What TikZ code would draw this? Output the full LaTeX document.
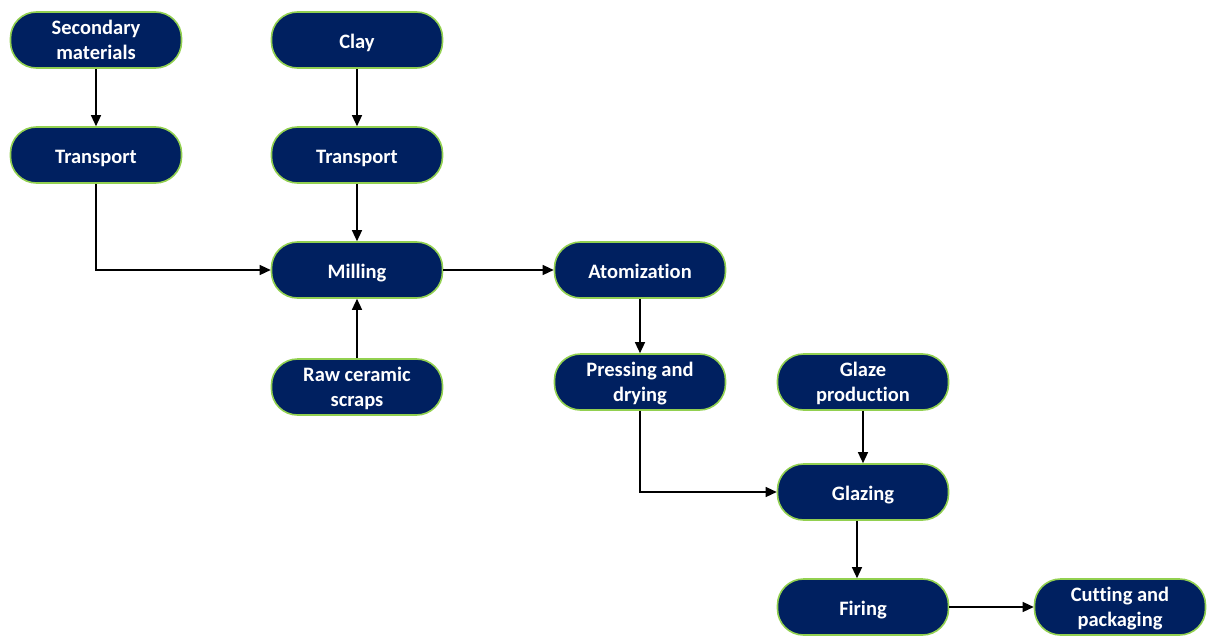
\documentclass[tikz,border=0pt]{standalone}
\usepackage{fontspec}
\setmainfont{Carlito}[Ligatures=NoCommon]
\usetikzlibrary{arrows.meta}
\definecolor{navy}{HTML}{002060}
\definecolor{lgreen}{HTML}{92D050}
\begin{document}
\begin{tikzpicture}[x=1pt,y=-1pt,
  box/.style={draw=lgreen, line width=1.6pt, fill=navy, rounded corners=26pt,
    minimum width=171pt, minimum height=56pt, text=white, align=center,
    font=\bfseries\fontsize{20.5}{25}\selectfont, inner sep=2pt},
  one/.style={box, text height=19pt, text depth=3pt},
  two/.style={box, text depth=0pt},
  arr/.style={-{Triangle[length=11pt,width=10pt]}, line width=1.3pt, black}]
\useasboundingbox (0,0) rectangle (1213,637);
\node[box] (sec) at (96,40) {Secondary\\materials};
\node[one] (clay) at (357,40) {Clay};
\node[one] (t1) at (96,155) {Transport};
\node[one] (t2) at (357,155) {Transport};
\node[one] (mill) at (357,270) {Milling};
\node[two] (raw) at (357,387) {Raw ceramic\\scraps};
\node[one] (atom) at (640,270) {Atomization};
\node[two] (press) at (640,382) {Pressing and\\drying};
\node[two] (glp) at (863,382) {Glaze\\production};
\node[one] (glz) at (863,492) {Glazing};
\node[one] (fir) at (863,607) {Firing};
\node[two] (cut) at (1120,607) {Cutting and\\packaging};
\draw[arr] (sec) -- (t1);
\draw[arr] (clay) -- (t2);
\draw[arr] (t2) -- (mill);
\draw[arr] (t1.south) |- (mill.west);
\draw[arr] (raw) -- (mill);
\draw[arr] (mill) -- (atom);
\draw[arr] (atom) -- (press);
\draw[arr] (press.south) |- (glz.west);
\draw[arr] (glp) -- (glz);
\draw[arr] ([xshift=-6pt]glz.south) -- ([xshift=-6pt]fir.north);
\draw[arr] (fir) -- (cut);
\end{tikzpicture}
\end{document}
